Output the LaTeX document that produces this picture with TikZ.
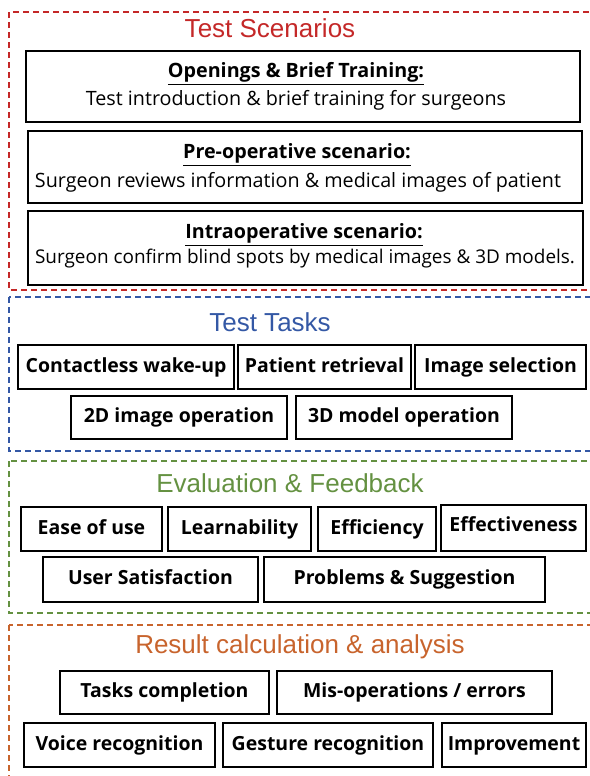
\documentclass[tikz,border=0pt]{standalone}
\usepackage{fontspec}
\setmainfont{Liberation Sans}
\newfontfamily\boxfont{Open Sans}
\usetikzlibrary{positioning}
\definecolor{scenred}{RGB}{196,40,40}
\definecolor{taskblue}{RGB}{52,88,165}
\definecolor{evalgreen}{RGB}{100,145,65}
\definecolor{resorange}{RGB}{200,100,45}

\begin{document}
\begin{tikzpicture}[x=0.75pt, y=-0.75pt,
    frame/.style={dash pattern=on 4.5pt off 3pt, line width=0.9pt},
    title/.style={font=\fontsize{19.5}{23}\selectfont},
    tbox/.style={draw, line width=2.2pt, inner sep=0pt, text height=10.5pt, text depth=3pt,
        font=\boxfont\bfseries\fontsize{14.6}{17}\selectfont},
    sbox/.style={draw, line width=2.2pt, inner sep=0pt},
    sz/.style 2 args={minimum width=#1*0.75pt, minimum height=#2*0.75pt},
    stitle/.style={font=\boxfont\bfseries\fontsize{14.8}{17}\selectfont},
    sdesc/.style={font=\boxfont\fontsize{14.8}{17}\selectfont}]
    \useasboundingbox (0,0) rectangle (590,776);

    % dashed frames
    \draw[frame, scenred] (9,12) rectangle (596,290);
    \draw[frame, taskblue] (9,297) rectangle (596,451);
    \draw[frame, evalgreen] (9,461) rectangle (596,613);
    \draw[frame, resorange] (9,625) rectangle (596,790);

    % test scenarios
    \node[title, text=scenred] (scentitle) at (270,28) {Test Scenarios};
    \node[sbox, sz={554}{71}] (open) at (303,86.5) {};
    \node[stitle] (opentitle) at (296,74) {\underline{Openings \& Brief Training:}};
    \node[sdesc] (opendesc) at (296,100) {Test introduction \& brief training for surgeons};
    \node[sbox, sz={554}{72}] (preop) at (305,167) {};
    \node[stitle] (preoptitle) at (297,155) {\underline{Pre-operative scenario:}};
    \node[sdesc] (preopdesc) at (298,182) {Surgeon reviews information \& medical images of patient};
    \node[sbox, sz={555}{74}] (intraop) at (305.5,248) {};
    \node[stitle] (intraoptitle) at (304,235) {\underline{Intraoperative scenario:}};
    \node[sdesc, font=\boxfont\fontsize{14.2}{17}\selectfont] (intraopdesc) at (305,259)
        {Surgeon confirm blind spots by medical images \& 3D models.};

    % test tasks
    \node[title, text=taskblue] (tasktitle) at (270,322) {Test Tasks};
    \node[tbox, sz={216}{44}] (wakeup) at (126,367) {Contactless wake-up};
    \node[tbox, sz={173}{44}] (retrieval) at (324.5,367) {Patient retrieval};
    \node[tbox, sz={171}{44}] (selection) at (500.5,367) {Image selection};
    \node[tbox, sz={216}{43}] (image2d) at (179,417.5) {2D image operation};
    \node[tbox, sz={216}{43}] (model3d) at (404,417.5) {3D model operation};

    % evaluation & feedback
    \node[title, text=evalgreen] (evaltitle) at (290,483) {Evaluation \& Feedback};
    \node[tbox, sz={141}{44}] (ease) at (91.5,529) {Ease of use};
    \node[tbox, sz={143}{44}] (learn) at (239.5,529) {Learnability};
    \node[tbox, sz={118}{44}] (efficiency) at (377,529) {Efficiency};
    \node[tbox, sz={145}{46}, text depth=5pt] (effective) at (513.5,528) {Effectiveness};
    \node[tbox, sz={215}{45}] (satisfaction) at (150.5,579.5) {User Satisfaction};
    \node[tbox, sz={281}{45}] (problems) at (404.5,579.5) {Problems \& Suggestion};

    % result calculation & analysis
    \node[title, text=resorange] (restitle) at (300,647) {Result calculation \& analysis};
    \node[tbox, sz={209}{43}] (completion) at (164.5,692.5) {Tasks completion};
    \node[tbox, sz={275}{43}] (errors) at (414.5,692.5) {Mis-operations / errors};
    \node[tbox, sz={191}{44}] (voice) at (119.5,745) {Voice recognition};
    \node[tbox, sz={210}{44}] (gesture) at (328,745) {Gesture recognition};
    \node[tbox, sz={144}{44}] (improve) at (514,745) {Improvement};
\end{tikzpicture}
\end{document}
